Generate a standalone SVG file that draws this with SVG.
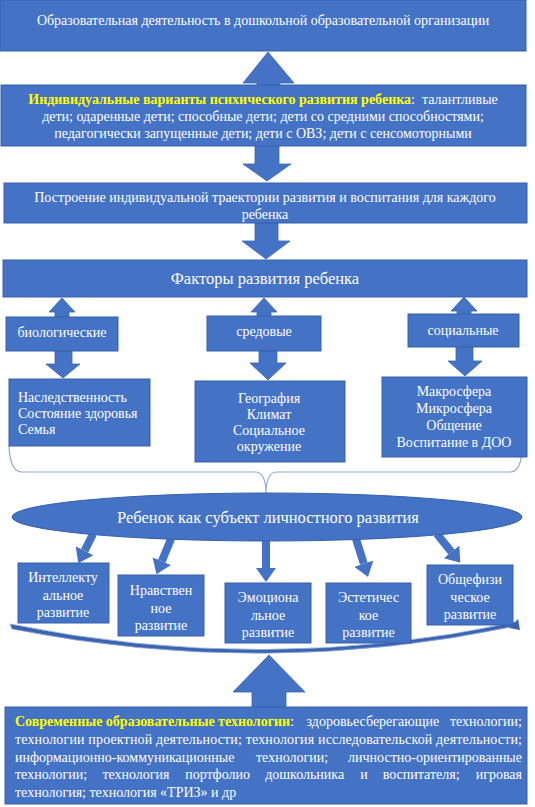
<svg xmlns="http://www.w3.org/2000/svg" width="535" height="807" viewBox="0 0 535 807" font-family="'Liberation Serif', Tinos, 'Times New Roman', 'DejaVu Serif', serif">
<style>
.box{fill:#4472c4;stroke:#3660ad;stroke-width:1}
.arr{fill:#4472c4;stroke:#3b64b0;stroke-width:0.8}
text{font-family:'Liberation Serif', Tinos, 'Times New Roman', 'DejaVu Serif', serif;fill:#ffffff;font-size:14px}
.c{text-anchor:middle}
.e{text-anchor:end}
.y{fill:#ffff00;font-weight:bold}
.big{font-size:16.5px}
.brace{fill:none;stroke:#8eaadb;stroke-width:1.2}
.shaft{stroke:#4472c4;stroke-width:8;fill:none}
</style>
<defs>
<marker id="ah" markerUnits="userSpaceOnUse" markerWidth="14" markerHeight="20" viewBox="0 0 14 20" refX="0" refY="10" orient="auto">
<path d="M0,0 L14,10 L0,20 Z" fill="#4472c4"/>
</marker>
</defs>
<rect width="535" height="807" fill="#ffffff"/>

<g id="connectors">
<polygon class="arr" points="268,52 294,83 280,83 280,86 257,86 257,83 243,83"/>
<polygon class="arr" points="255,145 279,145 279,164 291,164 267,181 243,164 255,164"/>
<polygon class="arr" points="255,223 278,223 278,241 290,241 266,259 242,241 255,241"/>
<polygon class="arr" points="62,298 75,312 69,312 69,318 55,318 55,312 49,312"/>
<polygon class="arr" points="55,350 72,350 72,364 80,364 63,378 46,364 55,364"/>
<polygon class="arr" points="264,298 277,312 271,312 271,317 257,317 257,312 251,312"/>
<polygon class="arr" points="259,351 277,351 277,363 286,363 268,380 250,363 259,363"/>
<polygon class="arr" points="464,297 477,311 471,311 471,315 457,315 457,311 451,311"/>
<polygon class="arr" points="456,347 473,347 473,361 482,361 465,376 448,361 456,361"/>
<path class="brace" d="M9,446 Q10,472 22,472 L255,472 Q266,472 266,494 Q266,472 277,472 L510,472 Q522,472 522,446"/>
<line class="shaft" x1="93" y1="534" x2="84.6" y2="550.7" marker-end="url(#ah)"/>
<line class="shaft" x1="171" y1="539" x2="161.8" y2="561.2" marker-end="url(#ah)"/>
<line class="shaft" x1="266" y1="540" x2="266" y2="568" marker-end="url(#ah)"/>
<line class="shaft" x1="356" y1="539" x2="363.8" y2="563.6" marker-end="url(#ah)"/>
<line class="shaft" x1="437" y1="534" x2="451.5" y2="551.9" marker-end="url(#ah)"/>
<path d="M10,624 Q265,676 516,622 L516,626 Q265,679 12,629 Z" fill="#3a64b0" stroke="#8faadc" stroke-width="0.8"/>
<polygon points="509,628 518,619 520,630" fill="#3a64b0"/>
<polygon class="arr" points="269,655 305,692 286,692 286,708 252,708 252,692 233,692"/>
</g>

<g id="n-top">
<rect class="box" x="0" y="0" width="526" height="51"/>
<text class="c" x="263" y="25">Образовательная деятельность в дошкольной образовательной организации</text>
</g>

<g id="n-variants">
<rect class="box" x="1" y="85" width="525" height="61"/>
<text class="c" x="263" y="104"><tspan class="y">Индивидуальные варианты психического развития ребенка</tspan>:&#160; талантливые</text>
<text class="c" x="263" y="121">дети; одаренные дети; способные дети; дети со средними способностями;</text>
<text class="c" x="263" y="138">педагогически запущенные дети; дети с ОВЗ; дети с сенсомоторными</text>
</g>

<g id="n-trajectory">
<rect class="box" x="4" y="183" width="523" height="40"/>
<text class="c" x="265" y="202">Построение индивидуальной траектории развития и воспитания для каждого</text>
<text class="c" x="265" y="219">ребенка</text>
</g>

<g id="n-factors">
<rect class="box" x="3" y="260" width="524" height="37"/>
<text class="c big" x="265" y="284">Факторы развития ребенка</text>
</g>

<g id="n-bio">
<rect class="box" x="6" y="317" width="112" height="34"/>
<text class="c" x="62" y="337">биологические</text>
</g>
<g id="n-sred">
<rect class="box" x="207" y="316" width="114" height="35"/>
<text class="c" x="264" y="336">средовые</text>
</g>
<g id="n-soc">
<rect class="box" x="408" y="314" width="111" height="33"/>
<text class="c" x="463" y="335">социальные</text>
</g>

<g id="n-bio-list">
<rect class="box" x="9" y="379" width="141" height="67"/>
<text x="18" y="402">Наследственность</text>
<text x="18" y="418">Состояние здоровья</text>
<text x="18" y="434">Семья</text>
</g>
<g id="n-sred-list">
<rect class="box" x="195" y="381" width="150" height="81"/>
<text class="c" x="269" y="403">География</text>
<text class="c" x="269" y="419">Климат</text>
<text class="c" x="269" y="435">Социальное</text>
<text class="c" x="269" y="451">окружение</text>
</g>
<g id="n-soc-list">
<rect class="box" x="382" y="377" width="145" height="80"/>
<text class="c" x="454" y="396">Макросфера</text>
<text class="c" x="454" y="413">Микросфера</text>
<text class="c" x="454" y="430">Общение</text>
<text class="c" x="454" y="447">Воспитание в ДОО</text>
</g>

<g id="n-child">
<ellipse cx="267" cy="517" rx="255" ry="24" fill="#4472c4" stroke="#3660ad" stroke-width="1"/>
<text class="c big" x="268" y="523">Ребенок как субъект личностного развития</text>
</g>

<g id="n-intel">
<rect class="box" x="18" y="563" width="91" height="60"/>
<text class="c" x="63" y="582">Интеллекту</text>
<text class="c" x="63" y="599.5">альное</text>
<text class="c" x="63" y="617">развитие</text>
</g>
<g id="n-moral">
<rect class="box" x="118" y="575" width="86" height="61"/>
<text class="c" x="161" y="595">Нравствен</text>
<text class="c" x="161" y="613">ное</text>
<text class="c" x="161" y="630">развитие</text>
</g>
<g id="n-emo">
<rect class="box" x="225" y="583" width="86" height="60"/>
<text class="c" x="268" y="602">Эмоциона</text>
<text class="c" x="268" y="619.5">льное</text>
<text class="c" x="268" y="637">развитие</text>
</g>
<g id="n-aest">
<rect class="box" x="326" y="583" width="85" height="60"/>
<text class="c" x="368.5" y="602">Эстетичес</text>
<text class="c" x="368.5" y="619.5">кое</text>
<text class="c" x="368.5" y="637">развитие</text>
</g>
<g id="n-phys">
<rect class="box" x="427" y="565" width="86" height="60"/>
<text class="c" x="470" y="584">Общефизи</text>
<text class="c" x="470" y="602">ческое</text>
<text class="c" x="470" y="619">развитие</text>
</g>

<g id="n-tech">
<rect class="box" x="5" y="707" width="522" height="97"/>
<text x="15" y="726"><tspan class="y">Современные образовательные технологии</tspan>:</text>
<text x="306.6" y="726">здоровьесберегающие</text>
<text class="e" x="522" y="726">технологии;</text>
<text x="15" y="744" textLength="507" lengthAdjust="spacing">технологии проектной деятельности; технология исследовательской деятельности;</text>
<text x="15" y="762">информационно-коммуникационные</text>
<text x="256" y="762">технологии;</text>
<text class="e" x="522" y="762">личностно-ориентированные</text>
<text x="15" y="779">технологии;</text>
<text x="102.4" y="779">технология</text>
<text x="185.2" y="779">портфолио</text>
<text x="265.2" y="779">дошкольника</text>
<text x="360.2" y="779">и</text>
<text x="382.7" y="779">воспитателя;</text>
<text class="e" x="522" y="779">игровая</text>
<text x="15" y="797">технология; технология «ТРИЗ» и др</text>
</g>
</svg>
